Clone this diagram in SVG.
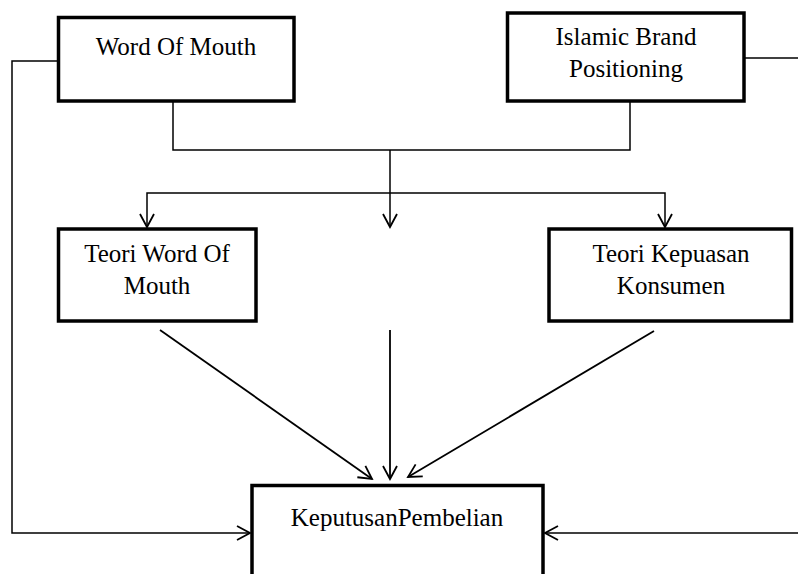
<svg xmlns="http://www.w3.org/2000/svg" width="798" height="574" viewBox="0 0 798 574">
<style>
.box{fill:#fff;stroke:#000;stroke-width:3.5}
.lbl{font-family:"Liberation Serif","Times New Roman",serif;font-size:25px;fill:#000;text-anchor:middle}
.c{fill:none;stroke:#000;stroke-width:1.5}
.d{fill:none;stroke:#000;stroke-width:1.8}
</style>
<defs>
<marker id="ah" markerUnits="userSpaceOnUse" markerWidth="20" markerHeight="20" viewBox="-16 -10 20 20" refX="0" refY="0" orient="auto">
<path d="M-13,-7 L0,0 L-13,7" fill="none" stroke="#000" stroke-width="1.8"/>
</marker>
</defs>
<g id="connectors">
<path class="c" d="M58,61 H12 V533 H250" marker-end="url(#ah)"/>
<path class="c" d="M744,58 H798"/>
<path class="c" d="M798,533 H545" marker-end="url(#ah)"/>
<path class="c" d="M173,101 V150 H630 V101"/>
<path class="c" d="M390,150 V227" marker-end="url(#ah)"/>
<path class="c" d="M390,193 H147 V227" marker-end="url(#ah)"/>
<path class="c" d="M390,193 H665 V227" marker-end="url(#ah)"/>
<path class="d" d="M160,330 L372,479" marker-end="url(#ah)"/>
<path class="d" d="M390,330 V479" marker-end="url(#ah)"/>
<path class="d" d="M654,331 L408,477" marker-end="url(#ah)"/>
</g>
<g id="word-of-mouth">
<rect class="box" x="58.5" y="17.5" width="235.5" height="83.5"/>
<text class="lbl" x="176" y="55">Word Of Mouth</text>
</g>
<g id="islamic-brand-positioning">
<rect class="box" x="507.5" y="13" width="236.5" height="88"/>
<text class="lbl" x="626" y="45">Islamic Brand</text>
<text class="lbl" x="626" y="77">Positioning</text>
</g>
<g id="teori-word-of-mouth">
<rect class="box" x="58.5" y="229" width="197.5" height="92"/>
<text class="lbl" x="157" y="262">Teori Word Of</text>
<text class="lbl" x="157" y="294">Mouth</text>
</g>
<g id="teori-kepuasan-konsumen">
<rect class="box" x="549" y="229" width="242.5" height="92"/>
<text class="lbl" x="671" y="262">Teori Kepuasan</text>
<text class="lbl" x="671" y="294">Konsumen</text>
</g>
<g id="keputusan-pembelian">
<rect class="box" x="252" y="485.5" width="291" height="100"/>
<text class="lbl" x="397" y="526">KeputusanPembelian</text>
</g>
</svg>
